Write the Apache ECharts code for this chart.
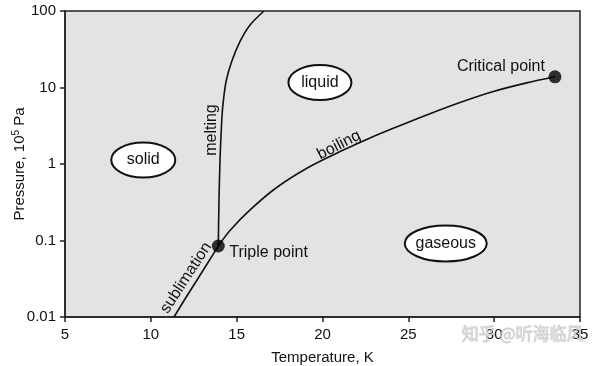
<!DOCTYPE html>
<html>
<head>
<meta charset="utf-8">
<script src="https://cdn.jsdelivr.net/npm/echarts@6/dist/echarts.min.js"></script>
<style>html,body{margin:0;padding:0;background:#fff;}#c{width:600px;height:366px;}</style>
</head>
<body>
<div id="c"></div>
<script>
// ---- data ----
var xTicks = [5, 10, 15, 20, 25, 30, 35];
var yTicks = [0.01, 0.1, 1, 10, 100];
var sublT = [11.35, 11.99, 12.69, 13.33, 13.93];
var sublP = [0.01, 0.0172, 0.0305, 0.0515, 0.0848];
var meltT = [13.93, 13.97, 14.03, 14.09, 14.15, 14.22, 14.38, 14.71, 15.19, 15.78, 16.59];
var meltP = [0.0848, 0.338, 1.13, 2.39, 4.37, 6.53, 11.9, 21.8, 39.7, 65.6, 100];
var boilT = [13.93, 14.61, 15.78, 17.33, 19.27, 21.21, 22.77, 24.12, 26.07, 28.01, 29.95, 31.89, 33.54];
var boilP = [0.0848, 0.135, 0.251, 0.493, 0.927, 1.52, 2.19, 2.93, 4.38, 6.37, 8.87, 11.5, 13.8];
var pointNames = ['Triple point', 'Critical point'];
var pointT = [13.93, 33.54];
var pointP = [0.0848, 13.8];
var phaseNames = ['solid', 'liquid', 'gaseous'];
var phaseT = [9.56, 19.85, 27.18];
var phaseP = [1.13, 11.6, 0.0914];
var curveNames = ['melting', 'boiling', 'sublimation'];
var curveLabT = [13.55, 20.96, 12.05];
var curveLabP = [2.78, 1.77, 0.0324];

// ---- styles ----
var FONT = '"Liberation Sans", Arial, sans-serif';
var phaseSize = {solid: [64, 35], liquid: [63, 35], gaseous: [82, 36]};
var curveRot = {melting: 90, boiling: 27, sublimation: 57};
var pointLabelStyle = {
  'Triple point': {dx: 11, dy: 7, align: 'left'},
  'Critical point': {dx: -10, dy: -10, align: 'right'}
};

function zip(a, b) { return a.map(function (v, i) { return [v, b[i]]; }); }

var chart = echarts.init(document.getElementById('c'), null, {renderer: 'canvas'});
var lineStyle = {color: '#111', width: 1.6};
chart.setOption({
  animation: false,
  grid: {left: 65, right: 20, top: 11, bottom: 49, outerBoundsMode: 'none', containLabel: false,
    show: true, backgroundColor: '#e3e3e3', borderColor: '#222', borderWidth: 1.5},
  xAxis: {
    type: 'value', min: xTicks[0], max: xTicks[xTicks.length - 1], interval: 5,
    name: 'Temperature, K', nameLocation: 'middle', nameGap: 33, nameMoveOverlap: false,
    nameTextStyle: {fontFamily: FONT, fontSize: 15, color: '#111'},
    axisLine: {show: true, lineStyle: {color: '#222', width: 1.5}},
    axisTick: {show: true, length: 5, lineStyle: {color: '#222', width: 1.5}},
    axisLabel: {fontFamily: FONT, fontSize: 15, color: '#111', margin: 10},
    splitLine: {show: false}
  },
  yAxis: {
    type: 'log', logBase: 10, min: yTicks[0], max: yTicks[yTicks.length - 1],
    name: 'Pressure, 10{sup|5} Pa', nameLocation: 'middle', nameGap: 36, nameMoveOverlap: false,
    nameTextStyle: {fontFamily: FONT, fontSize: 15, color: '#111',
      rich: {sup: {fontFamily: FONT, fontSize: 10, color: '#111', verticalAlign: 'bottom', padding: [0, 0, 8, 0]}}},
    axisLine: {show: true, lineStyle: {color: '#222', width: 1.5}},
    axisTick: {show: true, length: 5, lineStyle: {color: '#222', width: 1.5}},
    axisLabel: {fontFamily: FONT, fontSize: 15, color: '#111', margin: 9,
      formatter: function (v) { return String(+v.toPrecision(6)); }},
    splitLine: {show: false}, minorTick: {show: false}
  },
  series: [
    {type: 'line', data: zip(sublT, sublP), smooth: 0.3, symbol: 'none', lineStyle: lineStyle, z: 3},
    {type: 'line', data: zip(meltT, meltP), smooth: 0.3, symbol: 'none', lineStyle: lineStyle, z: 3},
    {type: 'line', data: zip(boilT, boilP), smooth: 0.3, symbol: 'none', lineStyle: lineStyle, z: 3},
    {
      type: 'scatter', data: pointNames.map(function (n, i) { return {name: n, value: [pointT[i], pointP[i]]}; }),
      symbol: 'circle', symbolSize: 13, itemStyle: {color: '#000'}, z: 5,
      label: {show: false}
    },
    {
      type: 'custom', z: 6,
      data: pointNames.map(function (n, i) { return [pointT[i], pointP[i], i]; }),
      renderItem: function (params, api) {
        var c = api.coord([api.value(0), api.value(1)]);
        var name = pointNames[api.value(2)];
        var s = pointLabelStyle[name];
        return {type: 'text', x: c[0] + s.dx, y: c[1] + s.dy,
          style: {text: name, fontFamily: FONT, fontSize: 16, fill: '#111', align: s.align, verticalAlign: 'middle'}};
      }
    },
    {
      type: 'custom', z: 6,
      data: phaseNames.map(function (n, i) { return [phaseT[i], phaseP[i], i]; }),
      renderItem: function (params, api) {
        var c = api.coord([api.value(0), api.value(1)]);
        var name = phaseNames[api.value(2)];
        var sz = phaseSize[name];
        return {type: 'group', children: [
          {type: 'ellipse', shape: {cx: c[0], cy: c[1], rx: sz[0] / 2, ry: sz[1] / 2},
            style: {fill: '#fff', stroke: '#111', lineWidth: 2}},
          {type: 'text', x: c[0], y: c[1],
            style: {text: name, fontFamily: FONT, fontSize: 16, fill: '#111', align: 'center', verticalAlign: 'middle'}}
        ]};
      }
    },
    {
      type: 'custom', z: 6,
      data: curveNames.map(function (n, i) { return [curveLabT[i], curveLabP[i], i]; }),
      renderItem: function (params, api) {
        var c = api.coord([api.value(0), api.value(1)]);
        var name = curveNames[api.value(2)];
        return {type: 'text', x: c[0], y: c[1], rotation: curveRot[name] * Math.PI / 180,
          style: {text: name, fontFamily: FONT, fontSize: 16, fill: '#111', align: 'center', verticalAlign: 'middle'}};
      }
    }
  ],
  graphic: [{
    type: 'text', right: 16, top: 325, z: 100,
    style: {text: '知乎 @听海临风', fontFamily: '"Noto Sans CJK SC", sans-serif', fontSize: 17,
      fill: 'rgba(215,215,215,0.8)', stroke: 'rgba(150,150,150,0.5)', lineWidth: 0.8}
  }]
});
</script>
</body>
</html>
